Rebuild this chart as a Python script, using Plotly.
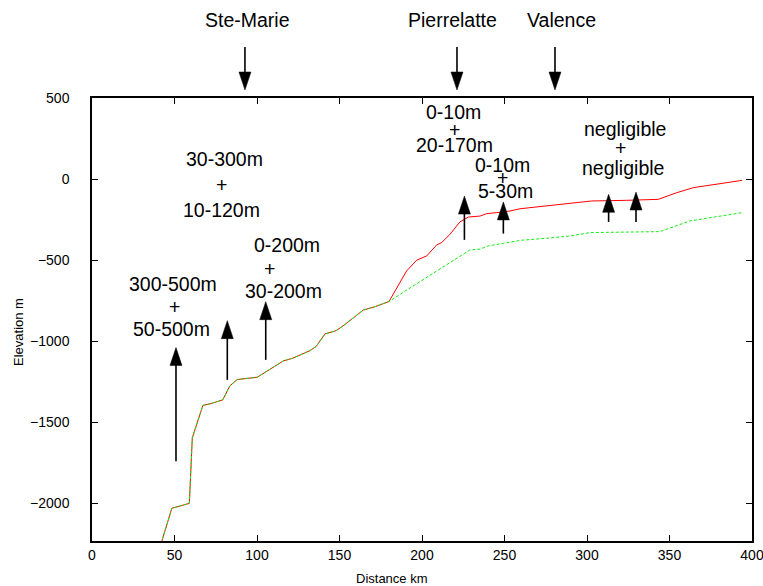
import plotly.graph_objects as go

# ---------------- data ----------------
# common part of both profiles (km, m)
common_dist = [40, 48.4, 59, 60.8, 67.2, 71.5, 79.2, 83.6, 88, 100.2, 116, 121.6,
               132.1, 135.8, 141.2, 147.9, 152.3, 164.4, 171.5, 180]
common_elev = [-2310, -2030, -2000, -1595, -1396, -1386, -1362, -1275, -1236, -1222,
               -1121, -1105, -1058, -1033, -955, -935, -904, -808, -787, -755]

# red (solid) profile after divergence
red_dist = [190.7, 196.8, 202.8, 208.9, 211.9, 217, 223, 228.1, 235.2, 239.2, 245.3,
            253.3, 259.4, 275.6, 289.7, 302.8, 324, 343.2, 354.4, 364.4, 394]
red_elev = [-566, -500, -474, -406, -392, -340, -264, -234, -228, -213, -207,
            -197, -183, -166, -152, -135, -131, -125, -84, -53, -8]

# green (dashed) profile after divergence
green_dist = [190.7, 208.9, 229, 235.2, 240.2, 249.3, 260.4, 275.6, 289.7, 301.8,
              344.2, 362.4, 394]
green_elev = [-685, -566, -437, -432, -412, -396, -377, -365, -351, -330,
              -324, -258, -207]

# upward arrows inside the plot
arrow_x = [50.9, 82.0, 105.3, 225.7, 249.3, 313.1, 329.7]
arrow_tail = [-1740, -1238, -1115, -375, -336, -264, -264]
arrow_tip = [-1039, -873, -756, -105, -141, -94, -80]

# text labels inside the plot (one line each)
label_text = ["30-300m", "+", "10-120m",
              "0-200m", "+", "30-200m",
              "300-500m", "+", "50-500m",
              "0-10m", "+", "20-170m",
              "0-10m", "+", "5-30m",
              "negligible", "+", "negligible"]
label_x = [80.4, 78.6, 78.2,
           118.0, 107.5, 115.8,
           48.8, 49.9, 48.1,
           219.3, 219.6, 219.5,
           249.0, 248.7, 250.3,
           322.8, 320.0, 322.0]
label_y = [121, -37, -192,
           -406, -552, -689,
           -648, -787, -924,
           414, 300, 209,
           86, 4, -74,
           306, 189, 66]

# town markers above the plot
town_names = ["Ste-Marie", "Pierrelatte", "Valence"]
town_label_x = [94.0, 218.2, 284.8]
town_arrow_x = [92.7, 221.2, 280.6]

x_ticks = [0, 50, 100, 150, 200, 250, 300, 350, 400]
y_ticks = [-2000, -1500, -1000, -500, 0, 500]

# ---------------- layout constants ----------------
W, H = 763, 586
PL, PR, PT, PB = 92, 752, 98, 541   # plot box in window pixels
XMIN, XMAX = 0, 400
YMIN, YMAX = -2232, 500
plot_w = PR - PL
plot_h = PB - PT
px_per_km = plot_w / (XMAX - XMIN)
px_per_m = plot_h / (YMAX - YMIN)


def paper_x(px):
    return (px - PL) / plot_w


def paper_y(py):
    return (PB - py) / plot_h


FONT = "Liberation Sans, Arial, Helvetica, sans-serif"

fig = go.Figure()
fig.add_trace(go.Scatter(x=common_dist + red_dist, y=common_elev + red_elev,
                         mode="lines", line=dict(color="#ff0000", width=1),
                         showlegend=False, hoverinfo="skip"))
fig.add_trace(go.Scatter(x=common_dist + green_dist, y=common_elev + green_elev,
                         mode="lines", line=dict(color="#11ee11", width=1, dash="3px,2px"),
                         showlegend=False, hoverinfo="skip"))

shapes = []
head_len = 18 / px_per_m
head_hw = 6 / px_per_km
for x, t, tip in zip(arrow_x, arrow_tail, arrow_tip):
    base = tip - head_len
    shapes.append(dict(type="line", xref="x", yref="y", x0=x, x1=x, y0=t, y1=base + 5,
                       line=dict(color="black", width=1.6)))
    shapes.append(dict(type="path", xref="x", yref="y",
                       path=f"M{x - head_hw},{base} L{x + head_hw},{base} L{x},{tip} Z",
                       fillcolor="black", line=dict(color="black", width=0.5)))

# top arrows (paper coordinates)
tail_p = paper_y(47)
tip_p = paper_y(90)
hl_p = 18 / plot_h
hw_p = 6 / plot_w
for xa in town_arrow_x:
    xp = (xa - XMIN) / (XMAX - XMIN)
    shapes.append(dict(type="line", xref="paper", yref="paper", x0=xp, x1=xp,
                       y0=tail_p, y1=tip_p + hl_p - 0.005,
                       line=dict(color="black", width=1.6)))
    shapes.append(dict(type="path", xref="paper", yref="paper",
                       path=f"M{xp - hw_p},{tip_p + hl_p} L{xp + hw_p},{tip_p + hl_p} L{xp},{tip_p} Z",
                       fillcolor="black", line=dict(color="black", width=0.5)))

annotations = []
for t, x, y in zip(label_text, label_x, label_y):
    annotations.append(dict(text=t, x=x, y=y, xref="x", yref="y", showarrow=False,
                            font=dict(family=FONT, size=19.5, color="black"),
                            xanchor="center", yanchor="middle"))
for name, x in zip(town_names, town_label_x):
    annotations.append(dict(text=name, x=(x - XMIN) / (XMAX - XMIN), y=paper_y(20),
                            xref="paper", yref="paper", showarrow=False,
                            font=dict(family=FONT, size=19.5, color="black"),
                            xanchor="center", yanchor="middle"))
annotations.append(dict(text="Distance km", x=paper_x(392), y=paper_y(578),
                        xref="paper", yref="paper", showarrow=False,
                        font=dict(family=FONT, size=13, color="black"),
                        xanchor="center", yanchor="middle"))
annotations.append(dict(text="Elevation m", x=paper_x(18), y=paper_y(332),
                        xref="paper", yref="paper", showarrow=False, textangle=-90,
                        font=dict(family=FONT, size=13, color="black"),
                        xanchor="center", yanchor="middle"))

fig.update_layout(
    width=W, height=H, autosize=False,
    margin=dict(l=PL, r=W - PR, t=PT, b=H - PB, pad=0, autoexpand=False),
    paper_bgcolor="white", plot_bgcolor="white",
    shapes=shapes, annotations=annotations,
    xaxis=dict(range=[XMIN, XMAX], tickvals=x_ticks, ticks="inside", ticklen=6,
               tickcolor="black", tickwidth=1.2, showline=True, linecolor="black",
               linewidth=1.5, mirror="ticks", showgrid=False, zeroline=False,
               automargin=False, ticklabelstandoff=0, ticklabeloverflow="allow",
               tickfont=dict(family=FONT, size=14, color="black")),
    yaxis=dict(range=[YMIN, YMAX], tickvals=y_ticks, ticks="inside", ticklen=6,
               tickcolor="black", tickwidth=1.2, showline=True, linecolor="black",
               linewidth=1.5, mirror="ticks", showgrid=False, zeroline=False,
               automargin=False, ticklabelstandoff=18, ticklabeloverflow="allow",
               tickfont=dict(family=FONT, size=14, color="black")),
)

# place the figure flush with the page corner so it fills the window exactly
fig.write_html("out.html",
               config={"displayModeBar": False},
               post_script="document.body.style.margin='0';"
                           "document.body.style.overflow='hidden';")
